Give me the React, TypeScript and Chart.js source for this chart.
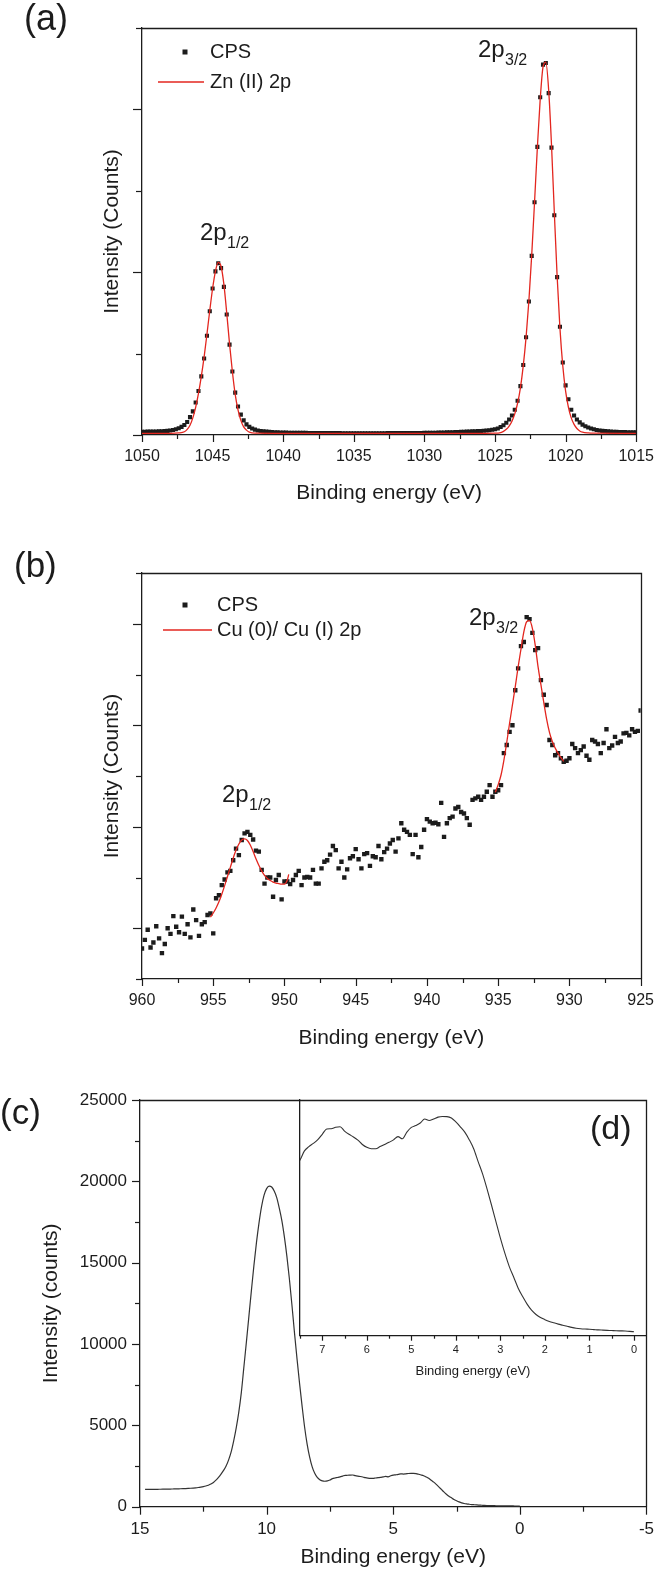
import React, { useEffect, useRef } from 'react';
import { Chart, registerables } from 'chart.js';

Chart.register(...registerables);

const FONT = '"Liberation Sans", Arial, Helvetica, sans-serif';
const INK = '#1c1c1c';
const RED = '#e3261f';

// ---------- Panel (a): Zn 2p ----------
const ZN_START = 1050.0;
const ZN_STEP = 0.2;
const znCounts = [
  0.040, 0.040, 0.041, 0.041, 0.042, 0.043, 0.044, 0.046, 0.048, 0.051,
  0.055, 0.061, 0.070, 0.083, 0.100, 0.122, 0.160, 0.220, 0.290, 0.400,
  0.540, 0.720, 0.940, 1.220, 1.520, 1.800, 2.010, 2.110, 2.050, 1.820,
  1.480, 1.110, 0.780, 0.520, 0.350, 0.250, 0.180, 0.130, 0.100, 0.080,
  0.066, 0.056, 0.050, 0.045, 0.042, 0.040, 0.036, 0.034, 0.032, 0.031,
  0.030, 0.029, 0.028, 0.028, 0.027, 0.027, 0.026, 0.026, 0.026, 0.025,
  0.025, 0.025, 0.024, 0.024, 0.024, 0.024, 0.023, 0.023, 0.023, 0.023,
  0.023, 0.022, 0.022, 0.022, 0.022, 0.022, 0.022, 0.022, 0.022, 0.022,
  0.022, 0.022, 0.022, 0.022, 0.022, 0.022, 0.022, 0.023, 0.023, 0.023,
  0.023, 0.023, 0.023, 0.024, 0.024, 0.024, 0.024, 0.025, 0.025, 0.025,
  0.026, 0.026, 0.027, 0.027, 0.028, 0.029, 0.030, 0.031, 0.032, 0.033,
  0.034, 0.035, 0.036, 0.038, 0.039, 0.041, 0.042, 0.044, 0.046, 0.048,
  0.050, 0.052, 0.055, 0.059, 0.064, 0.070, 0.080, 0.098, 0.120, 0.150,
  0.190, 0.240, 0.310, 0.420, 0.600, 0.860, 1.200, 1.640, 2.200, 2.860,
  3.540, 4.150, 4.550, 4.570, 4.200, 3.530, 2.700, 1.940, 1.330, 0.890,
  0.610, 0.440, 0.310, 0.240, 0.190, 0.155, 0.128, 0.108, 0.092, 0.080,
  0.070, 0.062, 0.056, 0.051, 0.047, 0.044, 0.042, 0.040, 0.038, 0.037,
  0.036, 0.035, 0.034, 0.034, 0.033, 0.033,
];
const znFitEnergy = [
  1050, 1048, 1047.4, 1047.0,
  1046.8, 1046.6, 1046.4, 1046.2, 1046.0, 1045.8, 1045.6, 1045.4, 1045.2, 1045.0, 1044.8,
  1044.6, 1044.4, 1044.2, 1044.0, 1043.8, 1043.6, 1043.4, 1043.2, 1043.0, 1042.8, 1042.6,
  1042.4, 1042.0, 1040, 1026, 1025.0, 1024.6,
  1024.4, 1024.2, 1024.0, 1023.8, 1023.6, 1023.4, 1023.2, 1023.0, 1022.8, 1022.6, 1022.4,
  1022.2, 1022.0, 1021.8, 1021.6, 1021.4, 1021.2, 1021.0, 1020.8, 1020.6, 1020.4, 1020.2,
  1020.0, 1019.8, 1019.6, 1019.4, 1019.2, 1019.0, 1018.8,
  1018.4, 1018.0, 1015,
];
const znFitCounts = [
  0.02, 0.02, 0.025, 0.04,
  0.07, 0.12, 0.21, 0.34, 0.51, 0.72, 0.96, 1.24, 1.53, 1.80, 2.01,
  2.12, 2.07, 1.85, 1.50, 1.12, 0.78, 0.50, 0.31, 0.18, 0.10, 0.06,
  0.035, 0.022, 0.02, 0.02, 0.022, 0.03,
  0.045, 0.07, 0.11, 0.17, 0.26, 0.39, 0.58, 0.85, 1.20, 1.65, 2.21,
  2.86, 3.53, 4.12, 4.52, 4.58, 4.24, 3.57, 2.74, 1.95, 1.31, 0.85,
  0.54, 0.34, 0.21, 0.13, 0.08, 0.05, 0.035,
  0.025, 0.022, 0.02,
];

// ---------- Panel (b): Cu 2p ----------
const CU_START = 960.0;
const CU_STEP = 0.2;
const cuCounts = [
  0.60, 0.77, 0.97, 0.62, 0.72, 1.04, 0.80, 0.51, 0.69, 1.00,
  0.89, 1.24, 1.03, 0.92, 1.23, 0.89, 1.08, 0.82, 1.37, 1.16,
  0.85, 1.08, 1.12, 1.26, 1.29, 0.90, 1.59, 1.65, 1.85, 1.96,
  2.10, 2.13, 2.34, 2.57, 2.44, 2.74, 2.87, 2.90, 2.84, 2.75,
  2.53, 2.51, 2.15, 1.88, 2.00, 2.00, 1.62, 1.95, 2.05, 1.57,
  1.92, 1.92, 1.87, 1.95, 2.05, 2.13, 1.85, 2.00, 2.01, 2.00,
  2.15, 1.88, 1.88, 2.18, 2.31, 2.34, 2.45, 2.62, 2.54, 2.18,
  2.31, 2.00, 2.16, 2.38, 2.42, 2.56, 2.36, 2.18, 2.46, 2.48,
  2.23, 2.42, 2.40, 2.62, 2.36, 2.50, 2.57, 2.67, 2.74, 2.51,
  2.77, 3.07, 2.94, 2.90, 2.84, 2.46, 2.84, 2.40, 2.60, 2.94,
  3.15, 3.10, 3.07, 3.08, 3.05, 3.47, 2.80, 3.07, 3.17, 3.20,
  3.36, 3.39, 3.29, 3.26, 3.17, 3.04, 3.53, 3.56, 3.59, 3.53,
  3.59, 3.69, 3.82, 3.59, 3.69, 3.72, 3.82, 4.45, 4.61, 4.87,
  5.00, 5.69, 6.12, 6.56, 6.64, 7.13, 7.09, 6.82, 6.48, 6.52,
  5.89, 5.60, 5.40, 4.71, 4.61, 4.41, 4.45, 4.35, 4.28, 4.30,
  4.35, 4.63, 4.55, 4.45, 4.51, 4.58, 4.40, 4.32, 4.71, 4.68,
  4.63, 4.45, 4.65, 4.92, 4.55, 4.60, 4.77, 4.65, 4.68, 4.84,
  4.85, 4.80, 4.92, 4.87, 4.89, 5.29,
];
const cuFit12Energy = [
  955.2, 955.0, 954.8, 954.6, 954.4, 954.2, 954.0, 953.8, 953.6, 953.4,
  953.2, 953.0, 952.8, 952.6, 952.4, 952.2, 952.0, 951.8, 951.6, 951.4,
  951.2, 951.0, 950.8, 950.6, 950.4, 950.2, 950.0, 949.8, 949.7,
];
const cuFit12Counts = [
  1.22, 1.30, 1.40, 1.52, 1.67, 1.84, 2.02, 2.20, 2.38, 2.54,
  2.66, 2.74, 2.76, 2.73, 2.64, 2.51, 2.37, 2.24, 2.13, 2.04,
  1.98, 1.94, 1.91, 1.89, 1.88, 1.87, 1.87, 1.95, 2.06,
];
const cuFit32Energy = [
  935.2, 935.0, 934.8, 934.6, 934.4, 934.2, 934.0, 933.8, 933.6, 933.4,
  933.2, 933.0, 932.8, 932.6, 932.4, 932.2, 932.0, 931.8, 931.6, 931.4,
  931.2, 931.0, 930.8, 930.6, 930.4,
];
const cuFit32Counts = [
  3.68, 3.83, 4.02, 4.31, 4.66, 5.04, 5.40, 5.76, 6.15, 6.50,
  6.84, 7.04, 7.06, 6.91, 6.58, 6.15, 5.80, 5.45, 5.12, 4.86,
  4.68, 4.55, 4.45, 4.36, 4.29,
];

// ---------- Panel (c)/(d): valence band ----------
const VB_START = 14.8;
const VB_STEP = 0.1;
const vbCounts = [
  1060, 1062, 1064, 1066, 1068, 1070, 1073, 1076, 1079, 1082,
  1085, 1089, 1093, 1098, 1103, 1109, 1116, 1124, 1133, 1145,
  1160, 1180, 1205, 1235, 1272, 1320, 1390, 1490, 1630, 1800,
  2000, 2230, 2500, 2880, 3370, 4050, 4850, 5800, 7000, 8550,
  10100, 11700, 13300, 14850, 16250, 17450, 18450, 19150, 19550, 19700,
  19650, 19400, 19000, 18350, 17600, 16600, 15400, 14000, 12400, 10700,
  9100, 7600, 6200, 4900, 3850, 3050, 2450, 2050, 1800, 1660,
  1590, 1565, 1585, 1640, 1725, 1765, 1795, 1830, 1880, 1930,
  1932, 1945, 1950, 1910, 1880, 1855, 1825, 1785, 1758, 1745,
  1745, 1765, 1785, 1805, 1828, 1858, 1838, 1900, 1944, 1962,
  1985, 2022, 2008, 2022, 2040, 2046, 2045, 2032, 1995, 1950,
  1900, 1830, 1745, 1625, 1510, 1370, 1220, 1065, 910, 770,
  645, 545, 443, 365, 295, 238, 198, 170, 150, 133,
  120, 108, 98, 88, 78, 70, 65, 62, 60, 57,
  54, 52, 50, 48, 46, 45, 44, 40, 37,
];
const insetTickValues = [0, 1, 2, 3, 4, 5, 6, 7];

const energyGrid = (start: number, step: number, n: number) =>
  Array.from({ length: n }, (_, i) => Math.round((start - i * step) * 100) / 100);
const pairs = (xs: number[], ys: number[]) => ys.map((y, i) => ({ x: xs[i], y }));

// ---------- decoration plugin (box, minor/major ticks, legend, labels) ----------
const decorPlugin = {
  id: 'decor',
  afterDraw(chart: any, _args: any, o: any) {
    if (!o) return;
    const { ctx, chartArea: a, scales } = chart;
    const ox = o.ox || 0;
    const oy = o.oy || 0;
    ctx.save();
    ctx.strokeStyle = INK;
    ctx.fillStyle = INK;
    ctx.lineWidth = 1.3;
    if (o.box) {
      ctx.beginPath();
      ctx.moveTo(Math.round(a.left), Math.round(a.top) + 0.5);
      ctx.lineTo(Math.round(a.right) + 0.5, Math.round(a.top) + 0.5);
      ctx.lineTo(Math.round(a.right) + 0.5, Math.round(a.bottom));
      ctx.stroke();
    }
    const drawTicks = (spec: any, horizontal: boolean) => {
      if (!spec) return;
      const sc = horizontal ? scales.x : scales.y;
      const n = Math.round((spec.to - spec.from) / spec.step);
      ctx.lineWidth = 1.2;
      for (let i = 0; i <= n; i++) {
        const v = spec.from + i * spec.step;
        const major = i % spec.every === spec.phase;
        const len = major ? spec.major : spec.minor;
        const p = Math.round(sc.getPixelForValue(v)) + 0.5;
        ctx.beginPath();
        if (horizontal) {
          ctx.moveTo(p, a.bottom);
          ctx.lineTo(p, a.bottom + len);
        } else {
          ctx.moveTo(a.left, p);
          ctx.lineTo(a.left - len, p);
        }
        ctx.stroke();
      }
    };
    drawTicks(o.xTicks, true);
    drawTicks(o.yTicks, false);
    (o.squares || []).forEach((s: any) => {
      ctx.fillStyle = INK;
      ctx.fillRect(s.x - ox - s.size / 2, s.y - oy - s.size / 2, s.size, s.size);
    });
    (o.lines || []).forEach((l: any) => {
      ctx.strokeStyle = l.color;
      ctx.lineWidth = l.width;
      ctx.beginPath();
      ctx.moveTo(l.x1 - ox, l.y - oy);
      ctx.lineTo(l.x2 - ox, l.y - oy);
      ctx.stroke();
    });
    (o.texts || []).forEach((t: any) => {
      ctx.fillStyle = INK;
      ctx.font = `${t.size}px ${FONT}`;
      ctx.textAlign = 'left';
      ctx.textBaseline = t.mid ? 'middle' : 'alphabetic';
      ctx.fillText(t.text, t.x - ox, t.y - oy);
    });
    ctx.restore();
  },
};

const xScale = (
  min: number, max: number, step: number, labelSize: number, labelPad: number,
  title: string, titleSize: number, height: number, fixedTicks?: number[],
) => ({
  type: 'linear',
  reverse: true,
  min,
  max,
  border: { display: true, color: INK, width: 1.3 },
  grid: { display: false, drawTicks: false },
  afterBuildTicks: fixedTicks
    ? (s: any) => { s.ticks = fixedTicks.map((v) => ({ value: v })); }
    : undefined,
  ticks: {
    stepSize: step,
    padding: labelPad,
    color: INK,
    autoSkip: false,
    maxRotation: 0,
    font: { family: FONT, size: labelSize },
    callback: (v: any) => String(v),
  },
  title: { display: true, text: title, color: INK, font: { family: FONT, size: titleSize }, padding: 0 },
  afterFit: (s: any) => { s.height = height; },
});

const yScale = (
  min: number, max: number, step: number, showLabels: boolean, labelSize: number,
  title: string, titleSize: number, titlePad: number, width: number,
) => ({
  type: 'linear',
  min,
  max,
  border: { display: true, color: INK, width: 1.3 },
  grid: { display: false, drawTicks: false },
  ticks: {
    display: showLabels,
    stepSize: step,
    padding: 13,
    color: INK,
    font: { family: FONT, size: labelSize },
    callback: (v: any) => String(v),
  },
  title: {
    display: !!title,
    text: title,
    color: INK,
    font: { family: FONT, size: titleSize },
    padding: { top: titlePad, bottom: 0 },
  },
  afterFit: (s: any) => { s.width = width; },
});

const baseOptions = (padding: any, x: any, y: any, decor: any) => ({
  animation: false,
  responsive: false,
  maintainAspectRatio: false,
  devicePixelRatio: 1,
  events: [],
  layout: { padding },
  plugins: { legend: { display: false }, tooltip: { enabled: false }, decor },
  scales: { x, y },
});

const configA = () => ({
  type: 'scatter',
  data: {
    datasets: [
      {
        label: 'Zn (II) 2p',
        data: pairs(znFitEnergy, znFitCounts),
        showLine: true, borderColor: RED, borderWidth: 1.3, pointRadius: 0,
        cubicInterpolationMode: 'monotone', order: 1,
      },
      {
        label: 'CPS',
        data: pairs(energyGrid(ZN_START, ZN_STEP, znCounts.length), znCounts),
        showLine: false, pointStyle: 'rect', pointRadius: 2.9,
        backgroundColor: INK, borderWidth: 0, order: 2,
      },
    ],
  },
  options: baseOptions(
    { left: 0, top: 28, right: 20, bottom: 4 },
    xScale(1015, 1050, 5, 16, 12, 'Binding energy (eV)', 21, 71),
    yScale(0, 5, 1, false, 16, 'Intensity (Counts)', 21, 100, 142),
    {
      ox: 0, oy: 0, box: true,
      xTicks: { from: 1015, to: 1050, step: 2.5, every: 2, phase: 0, major: 7, minor: 4 },
      yTicks: { from: 0, to: 5, step: 1, every: 2, phase: 0, major: 9, minor: 6 },
      squares: [{ x: 185, y: 52, size: 5 }],
      lines: [{ x1: 158, x2: 204, y: 82, color: RED, width: 1.3 }],
      texts: [
        { text: '(a)', x: 24, y: 30, size: 36 },
        { text: 'CPS', x: 210, y: 52, size: 20, mid: true },
        { text: 'Zn (II) 2p', x: 210, y: 82, size: 20, mid: true },
        { text: '2p', x: 478, y: 57, size: 24 },
        { text: '3/2', x: 505, y: 65, size: 16 },
        { text: '2p', x: 200, y: 240, size: 24 },
        { text: '1/2', x: 227, y: 248, size: 16 },
      ],
    },
  ),
});

const configB = () => ({
  type: 'scatter',
  data: {
    datasets: [
      {
        label: 'Cu (0)/ Cu (I) 2p',
        data: pairs(cuFit12Energy, cuFit12Counts),
        showLine: true, borderColor: RED, borderWidth: 1.3, pointRadius: 0,
        cubicInterpolationMode: 'monotone', order: 1,
      },
      {
        label: 'Cu (0)/ Cu (I) 2p',
        data: pairs(cuFit32Energy, cuFit32Counts),
        showLine: true, borderColor: RED, borderWidth: 1.3, pointRadius: 0,
        cubicInterpolationMode: 'monotone', order: 1,
      },
      {
        label: 'CPS',
        data: pairs(energyGrid(CU_START, CU_STEP, cuCounts.length), cuCounts),
        showLine: false, pointStyle: 'rect', pointRadius: 3.1,
        backgroundColor: INK, borderWidth: 0, order: 2,
      },
    ],
  },
  options: baseOptions(
    { left: 0, top: 33, right: 20, bottom: 9 },
    xScale(925, 960, 5, 16, 12, 'Binding energy (eV)', 21, 72),
    yScale(0, 8, 1, false, 16, 'Intensity (Counts)', 21, 100, 142),
    {
      ox: 0, oy: 540, box: true,
      xTicks: { from: 925, to: 960, step: 2.5, every: 2, phase: 0, major: 7, minor: 4 },
      yTicks: { from: 0, to: 8, step: 1, every: 2, phase: 1, major: 9, minor: 6 },
      squares: [{ x: 185, y: 605, size: 5 }],
      lines: [{ x1: 163, x2: 212, y: 630, color: RED, width: 1.3 }],
      texts: [
        { text: '(b)', x: 14, y: 577, size: 35 },
        { text: 'CPS', x: 217, y: 605, size: 20, mid: true },
        { text: 'Cu (0)/ Cu (I) 2p', x: 217, y: 630, size: 20, mid: true },
        { text: '2p', x: 469, y: 625, size: 24 },
        { text: '3/2', x: 496, y: 633, size: 16 },
        { text: '2p', x: 222, y: 802, size: 24 },
        { text: '1/2', x: 249, y: 810, size: 16 },
      ],
    },
  ),
});

const vbData = () => pairs(energyGrid(VB_START, VB_STEP, vbCounts.length), vbCounts);

const configC = () => ({
  type: 'scatter',
  data: {
    datasets: [
      {
        label: 'Valence band',
        data: vbData(),
        showLine: true, borderColor: '#333', borderWidth: 1.2, pointRadius: 0,
        cubicInterpolationMode: 'monotone',
      },
    ],
  },
  options: baseOptions(
    { left: 0, top: 30, right: 19, bottom: 2 },
    xScale(-5, 15, 5, 17, 12, 'Binding energy (eV)', 21, 63.3),
    yScale(0, 25000, 5000, true, 17, 'Intensity (counts)', 21, 38.4, 140),
    {
      ox: 0, oy: 1070, box: true,
      xTicks: { from: -5, to: 15, step: 2.5, every: 2, phase: 0, major: 8, minor: 5 },
      yTicks: { from: 0, to: 25000, step: 2500, every: 2, phase: 0, major: 8, minor: 5 },
      texts: [
        { text: '(c)', x: 0, y: 1124, size: 35 },
        { text: '(d)', x: 590, y: 1139, size: 34 },
      ],
    },
  ),
});

const configD = () => ({
  type: 'scatter',
  data: {
    datasets: [
      {
        label: 'Valence band edge',
        data: vbData(),
        showLine: true, borderColor: '#333', borderWidth: 1.1, pointRadius: 0,
        cubicInterpolationMode: 'monotone',
      },
    ],
  },
  options: baseOptions(
    { left: 0, top: 10, right: 20, bottom: 3 },
    xScale(-0.27, 7.5, 1, 11, 7.7, 'Binding energy (eV)', 13, 43.3, insetTickValues),
    yScale(0, 2200, 500, false, 11, '', 13, 0, 50),
    {
      ox: 250, oy: 1090, box: false,
      xTicks: { from: 0, to: 7.5, step: 0.5, every: 2, phase: 0, major: 5, minor: 3 },
    },
  ),
});

function Panel({ make, left, top, width, height }: any) {
  const ref = useRef<HTMLCanvasElement>(null);
  useEffect(() => {
    const chart = new Chart(ref.current as HTMLCanvasElement, { ...make(), plugins: [decorPlugin] } as any);
    return () => chart.destroy();
  }, []);
  return (
    <canvas
      ref={ref}
      width={width}
      height={height}
      style={{ position: 'absolute', left, top, width, height, display: 'block' }}
    />
  );
}

export default function App() {
  return (
    <div style={{ position: 'absolute', left: 0, top: 0, width: 666, height: 1572, background: '#fff', overflow: 'hidden' }}>
      <Panel make={configA} left={0} top={0} width={666} height={510} />
      <Panel make={configB} left={0} top={540} width={666} height={520} />
      <Panel make={configC} left={0} top={1070} width={666} height={502} />
      <Panel make={configD} left={250} top={1090} width={416} height={292} />
    </div>
  );
}
